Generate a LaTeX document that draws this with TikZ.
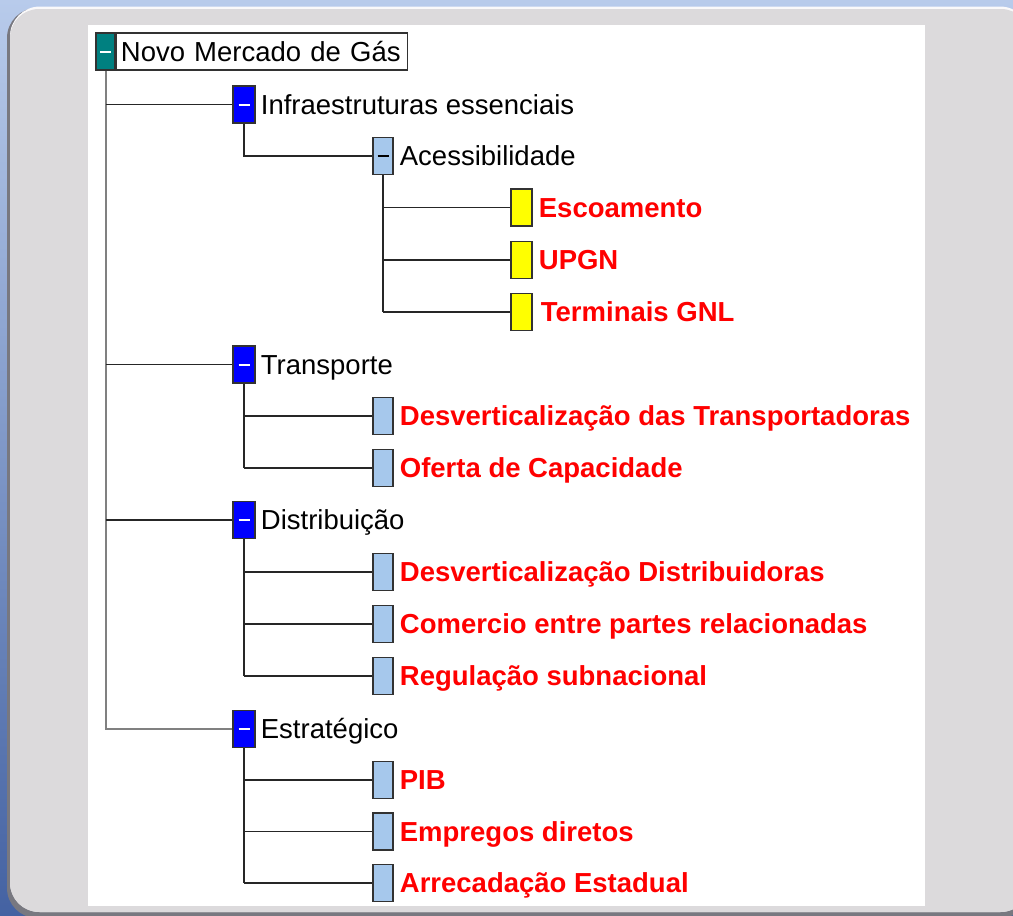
\documentclass[tikz,border=0pt]{standalone}
\usepackage{fontspec}
\setmainfont{Liberation Sans}
\usetikzlibrary{positioning}

\definecolor{skytop}{RGB}{184,203,235}
\definecolor{skybottom}{RGB}{68,98,162}
\definecolor{panelgray}{RGB}{220,218,220}
\definecolor{panelshadow}{RGB}{120,120,128}
\definecolor{boxedge}{RGB}{50,50,50}
\definecolor{trunkgray}{RGB}{128,128,128}
\definecolor{rootteal}{RGB}{0,128,128}
\definecolor{topicblue}{RGB}{0,0,255}
\definecolor{subblue}{RGB}{166,200,236}
\definecolor{itemyellow}{RGB}{255,255,0}
\definecolor{itemred}{RGB}{255,0,0}

\newcommand{\minusbar}[1]{\textcolor{#1}{\rule{11pt}{2pt}}}

\begin{document}
\begin{tikzpicture}[x=1pt,y=-1pt,
    treebox/.style={draw=boxedge,line width=1.4pt,minimum height=37pt,inner sep=0pt},
    rootbox/.style={treebox,fill=rootteal,minimum width=19pt},
    topicbox/.style={treebox,fill=topicblue,minimum width=22pt},
    subbox/.style={treebox,fill=subblue,minimum width=20pt},
    itembox/.style={treebox,fill=itemyellow,minimum width=21pt},
    nametext/.style={inner sep=0pt,text height=19.7pt,text depth=0pt,
        font=\fontsize{27.5}{33}\selectfont},
    itemtext/.style={nametext,text=itemred,font=\fontsize{27.5}{33}\selectfont\bfseries},
    trunk/.style={draw=trunkgray,line width=2pt},
    branch/.style={draw=black!85,line width=1.5pt}]
    \clip (0,0) rectangle (1013,916);
    %% background and panel
    \shade[top color=skytop,bottom color=skybottom] (0,0) rectangle (1013,916);
    \fill[panelshadow,rounded corners=30pt] (7,8) rectangle (1030,918);
    \fill[white!85!panelgray,rounded corners=30pt] (10,6.5) rectangle (1030,912);
    \fill[panelgray,rounded corners=29pt] (10,9) rectangle (1030,912);
    \fill[white] (88,25) rectangle (925,906);

    %% root
    \node[rootbox] (root) at (105.5,51.5) {\minusbar{white}};
    \node[treebox,right=0pt of root,nametext,minimum height=37pt,
        text width=282pt,inner xsep=4.5pt,align=left] (rootname)
        {Novo Mercado de Gás};

    %% topics
    \node[topicbox] (infra) at (244,104.5) {\minusbar{white}};
    \node[nametext,right=5pt of infra] (infratext) {Infraestruturas essenciais};
    \node[topicbox] (transp) at (244,364.5) {\minusbar{white}};
    \node[nametext,right=5pt of transp] (transptext) {Transporte};
    \node[topicbox] (distr) at (244,520) {\minusbar{white}};
    \node[nametext,right=5pt of distr] (distrtext) {Distribuição};
    \node[topicbox] (estrat) at (244,729) {\minusbar{white}};
    \node[nametext,right=5pt of estrat] (estrattext) {Estratégico};

    %% infraestruturas
    \node[subbox] (acess) at (383,156) {\minusbar{black}};
    \node[nametext,right=6pt of acess] (acesstext) {Acessibilidade};
    \node[itembox] (escoa) at (521.5,207.5) {};
    \node[itemtext,right=6pt of escoa] (escoatext) {Escoamento};
    \node[itembox] (upgn) at (521.5,260) {};
    \node[itemtext,right=6pt of upgn] (upgntext) {UPGN};
    \node[itembox] (gnl) at (521.5,312) {};
    \node[itemtext,right=8pt of gnl] (gnltext) {Terminais GNL};

    %% transporte
    \node[subbox] (desvt) at (383,416) {};
    \node[itemtext,right=6pt of desvt] (desvttext) {Desverticalização das Transportadoras};
    \node[subbox] (oferta) at (383,468) {};
    \node[itemtext,right=6pt of oferta] (ofertatext) {Oferta de Capacidade};

    %% distribuicao
    \node[subbox] (desvd) at (383,572) {};
    \node[itemtext,right=6pt of desvd] (desvdtext) {Desverticalização Distribuidoras};
    \node[subbox] (comerc) at (383,624) {};
    \node[itemtext,right=6pt of comerc] (comerctext) {Comercio entre partes relacionadas};
    \node[subbox] (regul) at (383,676) {};
    \node[itemtext,right=6pt of regul] (regultext) {Regulação subnacional};

    %% estrategico
    \node[subbox] (pib) at (383,780) {};
    \node[itemtext,right=6pt of pib] (pibtext) {PIB};
    \node[subbox] (empreg) at (383,831.5) {};
    \node[itemtext,right=6pt of empreg] (empregtext) {Empregos diretos};
    \node[subbox] (arrec) at (383,883) {};
    \node[itemtext,right=6pt of arrec] (arrectext) {Arrecadação Estadual};

    %% connectors
    \draw[trunk] (root.south) |- (estrat.west);
    \foreach \t in {infra,transp,distr}
        \draw[branch] (root.south |- \t.west) -- (\t.west);
    \draw[branch] (infra.south) |- (acess.west);
    \foreach \t in {escoa,upgn,gnl}
        \draw[branch] (acess.south |- \t.west) -- (\t.west);
    \draw[branch] (acess.south) -- (acess.south |- gnl.west);
    \foreach \t in {desvt,oferta}
        \draw[branch] (transp.south |- \t.west) -- (\t.west);
    \draw[branch] (transp.south) -- (transp.south |- oferta.west);
    \foreach \t in {desvd,comerc,regul}
        \draw[branch] (distr.south |- \t.west) -- (\t.west);
    \draw[branch] (distr.south) -- (distr.south |- regul.west);
    \foreach \t in {pib,empreg,arrec}
        \draw[branch] (estrat.south |- \t.west) -- (\t.west);
    \draw[branch] (estrat.south) -- (estrat.south |- arrec.west);
\end{tikzpicture}
\end{document}
